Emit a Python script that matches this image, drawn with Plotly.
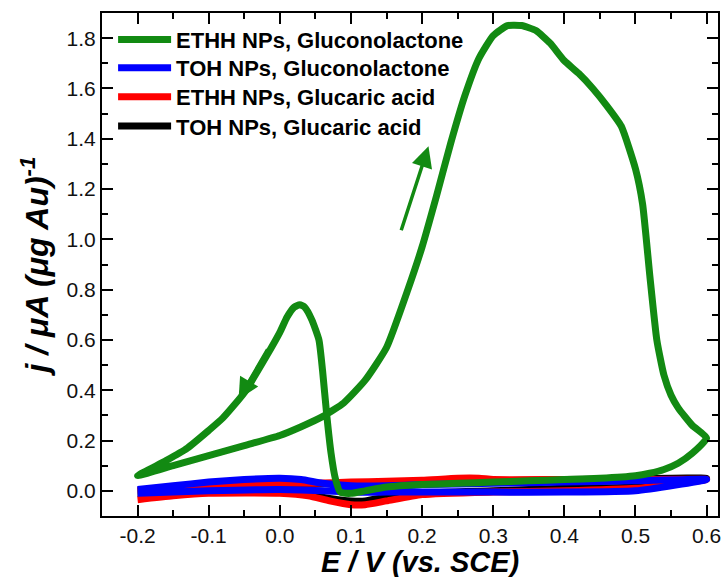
import plotly.graph_objects as go

# ---- cyclic voltammograms: potential E (V vs. SCE) and current density j (uA per ug Au) ----

# ETHH NPs in gluconolactone: anodic sweep (-0.2 -> 0.6 V) then cathodic sweep back
ethh_glc_E_fwd = [-0.20, -0.15, -0.10, -0.05, 0.00, 0.03, 0.06, 0.09, 0.12, 0.15, 0.18,
                  0.20, 0.22, 0.24, 0.26, 0.28, 0.30, 0.32, 0.34, 0.36, 0.38, 0.40, 0.42,
                  0.44, 0.46, 0.48, 0.50, 0.51, 0.52, 0.53, 0.54, 0.55, 0.56, 0.58, 0.60]
ethh_glc_j_fwd = [0.06, 0.10, 0.14, 0.18, 0.22, 0.255, 0.295, 0.35, 0.44, 0.57, 0.80,
                  0.97, 1.17, 1.38, 1.57, 1.72, 1.81, 1.85, 1.85, 1.83, 1.78, 1.71, 1.66,
                  1.60, 1.53, 1.45, 1.28, 1.14, 0.86, 0.60, 0.46, 0.38, 0.33, 0.26, 0.21]
ethh_glc_E_rev = [0.58, 0.56, 0.54, 0.52, 0.50, 0.45, 0.40, 0.35, 0.30, 0.25, 0.20, 0.15,
                  0.12, 0.10, 0.085, 0.078, 0.072, 0.066, 0.060, 0.055, 0.045, 0.035, 0.028,
                  0.020, 0.010, 0.00, -0.02, -0.05, -0.08, -0.10, -0.13, -0.16, -0.20]
ethh_glc_j_rev = [0.15, 0.11, 0.085, 0.07, 0.06, 0.05, 0.045, 0.04, 0.035, 0.03, 0.025, 0.015,
                  0.00, -0.01, -0.005, 0.05, 0.15, 0.30, 0.48, 0.60, 0.68, 0.73, 0.74,
                  0.73, 0.69, 0.63, 0.53, 0.39, 0.29, 0.24, 0.17, 0.12, 0.06]

# TOH NPs in gluconolactone
toh_glc_E_fwd = [-0.20, -0.15, -0.10, -0.05, 0.00, 0.03, 0.06, 0.10, 0.15, 0.20, 0.30, 0.40, 0.50, 0.60]
toh_glc_j_fwd = [0.005, 0.02, 0.035, 0.045, 0.05, 0.045, 0.03, 0.02, 0.02, 0.025, 0.03, 0.035, 0.04, 0.045]
toh_glc_E_rev = [0.50, 0.40, 0.30, 0.20, 0.15, 0.10, 0.06, 0.00, -0.10, -0.20]
toh_glc_j_rev = [0.00, -0.005, -0.005, -0.005, -0.005, -0.005, 0.00, 0.005, 0.00, -0.01]

# ETHH NPs in glucaric acid
ethh_gla_E_fwd = [-0.20, -0.10, 0.00, 0.05, 0.10, 0.15, 0.20, 0.25, 0.28, 0.30, 0.40, 0.50, 0.60]
ethh_gla_j_fwd = [0.00, 0.02, 0.03, 0.03, 0.035, 0.038, 0.042, 0.05, 0.05, 0.045, 0.045, 0.045, 0.045]
ethh_gla_E_rev = [0.50, 0.40, 0.30, 0.20, 0.15, 0.12, 0.10, 0.07, 0.04, 0.00, -0.10, -0.15, -0.20]
ethh_gla_j_rev = [0.01, 0.00, -0.005, -0.015, -0.04, -0.055, -0.055, -0.04, -0.02, -0.01, -0.01, -0.02, -0.035]

# TOH NPs in glucaric acid
toh_gla_E_fwd = [-0.20, -0.10, 0.00, 0.10, 0.20, 0.30, 0.40, 0.50, 0.60]
toh_gla_j_fwd = [0.00, 0.015, 0.025, 0.03, 0.035, 0.04, 0.045, 0.048, 0.05]
toh_gla_E_rev = [0.50, 0.40, 0.30, 0.20, 0.15, 0.12, 0.10, 0.07, 0.04, 0.00, -0.10, -0.20]
toh_gla_j_rev = [0.015, 0.01, 0.00, -0.01, -0.025, -0.04, -0.04, -0.03, -0.015, -0.005, -0.005, -0.01]

# scan-direction arrows: (tail E, tail j, head E, head j)
arrow_cathodic = (-0.016, 0.568, -0.058, 0.364)
arrow_anodic = (0.170, 1.03, 0.209, 1.37)

GREEN = "#128a12"
FONT = "Liberation Sans, Arial"

# (label, data..., colour, legend id, legend row position in paper units)
series = [
    ("TOH NPs, Glucaric acid", toh_gla_E_fwd, toh_gla_j_fwd, toh_gla_E_rev, toh_gla_j_rev,
     "#000000", "legend4", 0.775),
    ("ETHH NPs, Glucaric acid", ethh_gla_E_fwd, ethh_gla_j_fwd, ethh_gla_E_rev, ethh_gla_j_rev,
     "#ff0000", "legend3", 0.833),
    ("TOH NPs, Gluconolactone", toh_glc_E_fwd, toh_glc_j_fwd, toh_glc_E_rev, toh_glc_j_rev,
     "#0000ff", "legend2", 0.891),
    ("ETHH NPs, Gluconolactone", ethh_glc_E_fwd, ethh_glc_j_fwd, ethh_glc_E_rev, ethh_glc_j_rev,
     GREEN, "legend", 0.947),
]

fig = go.Figure()
legend_layout = {}
for name, ef, jf, er, jr, color, leg, ly in series:
    fig.add_trace(go.Scatter(
        x=ef + er, y=jf + jr, mode="lines", name="<b>" + name + "</b>", legend=leg,
        line=dict(color=color, width=7, shape="spline", smoothing=0.5),
    ))
    legend_layout[leg] = dict(
        x=0.018, y=ly, xanchor="left", yanchor="middle",
        bgcolor="rgba(0,0,0,0)", borderwidth=0,
        font=dict(family=FONT, size=22, color="black"),
        itemwidth=53,
    )

for tE, tj, hE, hj in (arrow_cathodic, arrow_anodic):
    fig.add_annotation(
        x=hE, y=hj, ax=tE, ay=tj, xref="x", yref="y", axref="x", ayref="y",
        text="", showarrow=True, arrowhead=2, arrowsize=1.2, arrowwidth=3.5,
        arrowcolor=GREEN, standoff=0, startstandoff=0,
    )

axis_common = dict(
    showline=True, linewidth=2, linecolor="black", mirror="allticks",
    ticks="inside", ticklen=11, tickwidth=2, tickcolor="black",
    showgrid=False, zeroline=False,
    tickfont=dict(family=FONT, size=21, color="#111111"),
)

fig.update_xaxes(
    range=[-0.25, 0.616], tickmode="array",
    tickvals=[-0.2, -0.1, 0.0, 0.1, 0.2, 0.3, 0.4, 0.5, 0.6],
    ticktext=["-0.2", "-0.1", "0.0", "0.1", "0.2", "0.3", "0.4", "0.5", "0.6"],
    minor=dict(ticks="inside", ticklen=6, tickwidth=2, tickcolor="black",
               tickvals=[-0.15, -0.05, 0.05, 0.15, 0.25, 0.35, 0.45, 0.55]),
    **axis_common,
)
fig.update_yaxes(
    range=[-0.1, 1.9], tickmode="array",
    tickvals=[0.0, 0.2, 0.4, 0.6, 0.8, 1.0, 1.2, 1.4, 1.6, 1.8],
    ticktext=["0.0", "0.2", "0.4", "0.6", "0.8", "1.0", "1.2", "1.4", "1.6", "1.8"],
    minor=dict(ticks="inside", ticklen=6, tickwidth=2, tickcolor="black",
               tickvals=[-0.1, 0.1, 0.3, 0.5, 0.7, 0.9, 1.1, 1.3, 1.5, 1.7]),
    title=dict(text="<b><i>j / μA (μg Au)<sup>-1</sup></i></b>", standoff=8,
               font=dict(family=FONT, size=32, color="black")),
    **axis_common,
)

# x-axis title, set slightly right of the plot centre
fig.add_annotation(
    text="<b><i>E / V (vs. SCE)</i></b>", xref="paper", yref="paper",
    x=0.517, y=-0.092, xanchor="center", yanchor="middle", showarrow=False,
    font=dict(family=FONT, size=29, color="black"),
)

fig.update_layout(
    width=727, height=577,
    margin=dict(l=102, r=6, t=13, b=61),
    paper_bgcolor="white", plot_bgcolor="white",
    showlegend=True,
    **legend_layout,
)

fig.write_html("out.html")
